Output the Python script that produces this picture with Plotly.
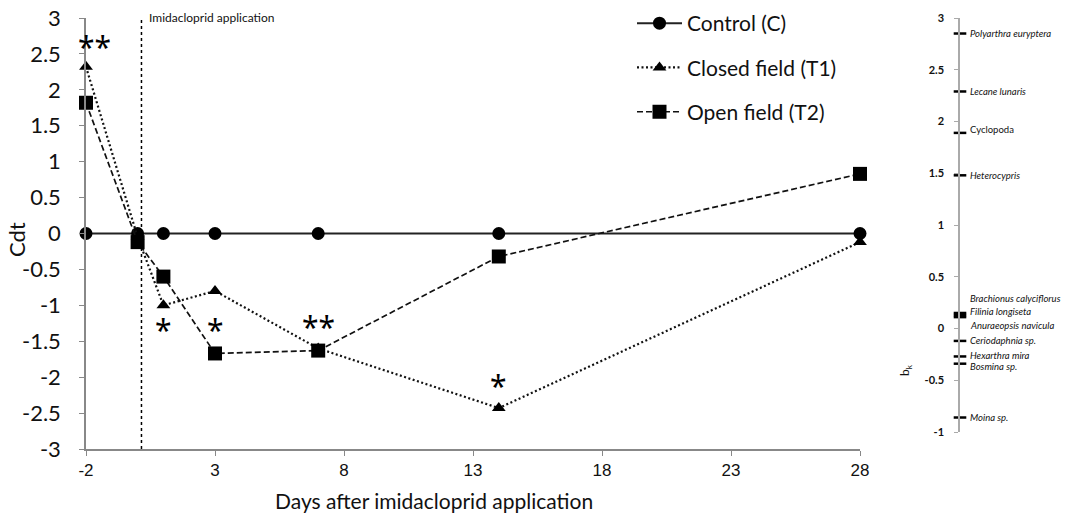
import plotly.graph_objects as go

# ---- data ----
days = [-2, 0, 1, 3, 7, 14, 28]
control = [0, 0, 0, 0, 0, 0, 0]
closed_t1 = [2.32, -0.05, -1.0, -0.8, -1.6, -2.43, -0.12]
open_t2 = [1.82, -0.12, -0.6, -1.67, -1.63, -0.32, 0.83]
x_ticks = [-2, 3, 8, 13, 18, 23, 28]
y_ticks = [-3, -2.5, -2, -1.5, -1, -0.5, 0, 0.5, 1, 1.5, 2, 2.5, 3]

sig_days = [-2, 1, 3, 7, 14]
sig_y = [2.6, -1.33, -1.33, -1.29, -2.12]
sig_text = ["**", "*", "*", "**", "*"]

application_day = 0.15

species = ["Polyarthra euryptera", "Lecane lunaris", "Cyclopoda", "Heterocypris",
           "Brachionus calyciflorus", "Filinia longiseta", "Anuraeopsis navicula",
           "Ceriodaphnia sp.", "Hexarthra mira", "Bosmina sp.", "Moina sp."]
species_bk = [2.85, 2.29, 1.89, 1.48, 0.15, 0.13, 0.11, -0.12, -0.27, -0.34, -0.86]
species_italic = [True, True, False, True, True, True, True, True, True, True, True]
label_shift = [0, 0, 3, 0, 14, 4, -8, 0, 1, -3, 0]
bk_ticks = [-1, -0.5, 0, 0.5, 1, 1.5, 2, 2.5, 3]

W, H = 1073, 519
def px(x):
    return x / W
def py(y):
    return 1 - y / H

main_font = "Lato, Open Sans, sans-serif"
star_font = "Noto Sans, DejaVu Sans, sans-serif"

fig = go.Figure()

fig.add_trace(go.Scatter(
    x=days, y=control, name="Control (C)", mode="lines+markers",
    line=dict(color="#222", width=2, dash="solid"),
    marker=dict(symbol="circle", size=13, color="black"),
    legendgroup="c", cliponaxis=False))
fig.add_trace(go.Scatter(
    x=days, y=closed_t1, name="Closed field (T1)", mode="lines+markers",
    line=dict(color="#111", width=2.2, dash="2px,2.5px"),
    marker=dict(symbol="triangle-up", size=12, color="black"),
    legendgroup="t1", cliponaxis=False))
fig.add_trace(go.Scatter(
    x=days, y=open_t2, name="Open field (T2)", mode="lines+markers",
    line=dict(color="#111", width=1.7, dash="6px,3px"),
    marker=dict(symbol="square", size=14, color="black"),
    legendgroup="t2", cliponaxis=False))

# right-hand b_k axis markers
fig.add_trace(go.Scatter(
    x=[0] * len(species_bk), y=species_bk, xaxis="x2", yaxis="y2",
    mode="markers", showlegend=False, cliponaxis=False,
    marker=dict(symbol="line-ew", size=9, line=dict(width=2.5, color="black"))))

annotations = []
for d, yv, t in zip(sig_days, sig_y, sig_text):
    annotations.append(dict(x=d, y=yv, xref="x", yref="y", text=t, showarrow=False,
                            xanchor="center", yanchor="middle",
                            font=dict(family=star_font, size=30, color="black"),
                            xshift=8 if d == -2 else 0))

for name, v, it, sh in zip(species, species_bk, species_italic, label_shift):
    annotations.append(dict(x=0.07, y=v, xref="x2", yref="y2",
                            text=(f"<i>{name}</i>" if it else name), showarrow=False,
                            xanchor="left", yanchor="middle", yshift=sh,
                            font=dict(family=main_font, size=9.5, color="#111")))

annotations += [
    dict(x=px(147), y=py(18), xref="paper", yref="paper", text="Imidacloprid application",
         showarrow=False, xanchor="left", yanchor="middle",
         font=dict(family=main_font, size=12, color="#111")),
    dict(x=px(434), y=py(500), xref="paper", yref="paper",
         text="Days after imidacloprid application", showarrow=False,
         xanchor="center", yanchor="middle",
         font=dict(family=main_font, size=21, color="#111")),
    dict(x=px(16), y=py(240), xref="paper", yref="paper", text="Cdt", textangle=-90,
         showarrow=False, xanchor="center", yanchor="middle",
         font=dict(family=main_font, size=22, color="#111")),
    dict(x=px(905), y=py(370), xref="paper", yref="paper", text="b<sub>k</sub>",
         textangle=-90, showarrow=False, xanchor="center", yanchor="middle",
         font=dict(family=main_font, size=12, color="#111")),
]

fig.add_shape(type="line", xref="x", yref="y", x0=application_day, x1=application_day,
              y0=-3, y1=3, line=dict(color="black", width=1.5, dash="dot"))

fig.update_layout(
    width=W, height=H, margin=dict(l=0, r=0, t=0, b=0, autoexpand=False),
    paper_bgcolor="white", plot_bgcolor="white",
    showlegend=True,
    legend=dict(x=px(632), y=py(3), xanchor="left", yanchor="top",
                font=dict(family=main_font, size=21, color="#111"),
                itemwidth=45, tracegroupgap=14, traceorder="grouped",
                bgcolor="rgba(0,0,0,0)"),
    xaxis=dict(domain=[px(86), px(860)], range=[-2, 28], tickvals=x_ticks,
               ticktext=[f"{v:g}" for v in x_ticks],
               showline=True, linecolor="#888", linewidth=1.5, ticks="outside",
               ticklen=5, tickcolor="#888", showgrid=False, zeroline=False,
               automargin=False, ticklabeloverflow="allow",
               tickfont=dict(family="Liberation Sans Narrow, Liberation Sans", size=17,
                             color="#111"),
               anchor="y"),
    yaxis=dict(domain=[py(449), py(18)], range=[-3, 3], tickvals=y_ticks,
               ticktext=[f"{v:g}" for v in y_ticks],
               showline=True, linecolor="#888", linewidth=1.5, ticks="outside",
               ticklen=5, tickcolor="#888", showgrid=False, zeroline=False,
               ticklabelstandoff=14, automargin=False, ticklabeloverflow="allow",
               tickfont=dict(family=main_font, size=22, color="#111"), anchor="x"),
    xaxis2=dict(domain=[px(960), 1.0], range=[0, 1], visible=False, anchor="y2",
                automargin=False),
    yaxis2=dict(domain=[py(432), py(18)], range=[-1, 3], tickvals=bk_ticks,
                ticktext=[f"<b>{v:g}</b>" for v in bk_ticks],
                showline=True, linecolor="#aaa", linewidth=1.5, ticks="outside",
                ticklen=4, tickcolor="#aaa", showgrid=False, zeroline=False,
                ticklabelstandoff=8, automargin=False, ticklabeloverflow="allow",
                tickfont=dict(family=main_font, size=11, color="#111"), anchor="x2"),
    annotations=annotations,
)

fig.write_html("out.html", config={"displayModeBar": False},
               post_script="document.body.style.margin='0';document.body.style.overflow='hidden';")
